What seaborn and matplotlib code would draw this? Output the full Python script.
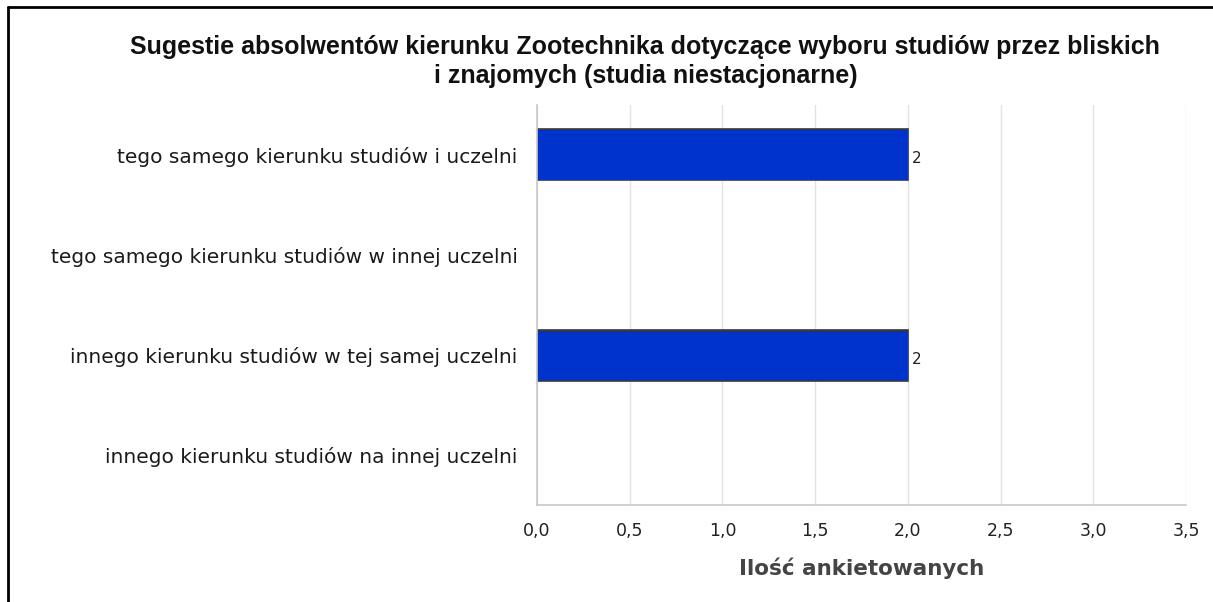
import pandas as pd
import seaborn as sns
import matplotlib.pyplot as plt
from matplotlib.lines import Line2D
from matplotlib.ticker import FuncFormatter

# data
categories = [
    "tego samego kierunku studiów i uczelni",
    "tego samego kierunku studiów w innej uczelni",
    "innego kierunku studiów w tej samej uczelni",
    "innego kierunku studiów na innej uczelni",
]
counts = [2, 0, 2, 0]
xticks = [0, 0.5, 1.0, 1.5, 2.0, 2.5, 3.0, 3.5]

df = pd.DataFrame({"kategoria": categories, "ilosc": counts})

sns.set_theme(style='whitegrid')
plt.rcParams['font.family'] = ['DejaVu Sans']

fig = plt.figure(figsize=(12.13, 6.02), dpi=100)
ax = fig.add_axes([0.4427, 0.1611, 0.5350, 0.6645])

sns.barplot(x='ilosc', y='kategoria', data=df, orient='h', ax=ax,
            color='#0033cc', saturation=1, width=0.51,
            edgecolor='#3a3a3a', linewidth=1.2)

# hide outline of empty bars
for p in ax.patches:
    if p.get_width() == 0:
        p.set_linewidth(0)

#value labels only for non-zero bars
for i, v in enumerate(counts):
    if v > 0:
        ax.text(v + 0.02, i + 0.04, str(v), va='center', ha='left',
                fontsize=11, color='#222222')

ax.set_xlim(0, 3.5)
ax.set_xticks(xticks)
ax.xaxis.set_major_formatter(FuncFormatter(lambda v, p: f"{v:.1f}".replace('.', ',')))
ax.set_ylabel('')
ax.set_xlabel('Ilość ankietowanych', fontsize=15.5, fontweight='bold',
              color='#444444', labelpad=13)

ax.grid(axis='x', color='#e2e2e2', linewidth=1)
ax.grid(axis='y', visible=False)
for s in ['top', 'right']:
    ax.spines[s].set_visible(False)
for s in ['left', 'bottom']:
    ax.spines[s].set_visible(True)
    ax.spines[s].set_color('#c8c8c8')
    ax.spines[s].set_linewidth(1.2)
ax.tick_params(axis='x', length=4, color='#c8c8c8', labelsize=12.5, labelcolor='#222222', pad=8)
ax.tick_params(axis='y', length=0, labelsize=14.5, labelcolor='#1a1a1a', pad=14)

fig.text(0.532, 0.898, 'Sugestie absolwentów kierunku Zootechnika dotyczące wyboru studiów przez bliskich\ni znajomych (studia niestacjonarne)',
         ha='center', va='center', fontsize=18, fontweight='bold',
         fontfamily='Liberation Sans', color='#111111', linespacing=1.3)

# black frame along left and top edge
fig.add_artist(Line2D([0.0065, 0.0065], [0, 0.988], transform=fig.transFigure, color='black', linewidth=2))
fig.add_artist(Line2D([0.0065, 1.0], [0.988, 0.988], transform=fig.transFigure, color='black', linewidth=2))

plt.savefig('out.png', dpi=100)
